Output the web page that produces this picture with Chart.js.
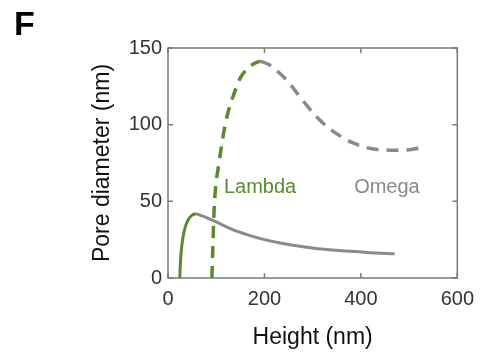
<!DOCTYPE html>
<html>
<head>
<meta charset="utf-8">
<script src="https://cdn.jsdelivr.net/npm/chart.js@4.4.1/dist/chart.umd.min.js"></script>
<style>
  html, body { margin: 0; padding: 0; background: #fff; }
  #wrap { position: relative; width: 483px; height: 356px; }
  #panel { position: absolute; left: 14px; top: 4px; font: bold 34px "Liberation Sans", Arial, sans-serif; color: #000; }
</style>
</head>
<body>
<div id="wrap">
  <canvas id="c" width="483" height="356"></canvas>
  <div id="panel">F</div>
</div>
<script>
// Data (height nm -> pore diameter nm)
const lambdaSolidX = [24.5, 25, 25.8, 27, 29, 32, 36, 42, 50, 58.5];
const lambdaSolidY = [0, 5, 10, 16, 22, 28, 33.5, 38, 41, 42];
const omegaSolidX  = [58.5, 75, 99, 133, 167, 200, 235, 270, 303, 340, 371, 420, 470];
const omegaSolidY  = [42, 40, 36.7, 31.7, 28, 25, 22.6, 20.8, 19.4, 18.3, 17.6, 16.5, 15.8];
const lambdaDashX  = [91, 93, 95, 99, 104, 110, 118, 128, 138, 150, 174, 191];
const lambdaDashY  = [0, 20, 40, 60, 71.5, 84, 99, 112, 121, 130.5, 139, 141.5];
const omegaDashX   = [191, 210, 230, 252, 270, 290, 310, 334, 360, 385, 410, 430, 450, 480, 507, 524];
const omegaDashY   = [141.5, 139, 134, 127, 119.5, 111.7, 104.5, 97.6, 92, 87.9, 85.2, 84, 83.5, 83.3, 84, 85];

const xTicks = [0, 200, 400, 600];
const yTicks = [0, 50, 100, 150];

const GREEN = "#5a8a2c";
const GREY = "#8a8a8a";
const FONT = "'Liberation Sans', Arial, sans-serif";

const pts = (xs, ys) => xs.map((x, i) => ({ x: x, y: ys[i] }));

const line = (label, xs, ys, color, dashed) => ({
  label: label,
  data: pts(xs, ys),
  showLine: true,
  borderColor: color,
  borderWidth: dashed ? 3.5 : 3,
  borderDash: dashed ? [12, 8] : [],
  pointRadius: 0,
  cubicInterpolationMode: "monotone",
  fill: false
});

// Box with inward ticks on all four sides, plus the two curve labels
const boxPlugin = {
  id: "box",
  afterDatasetsDraw(chart) {
    const { ctx, chartArea: a, scales } = chart;
    ctx.save();
    ctx.strokeStyle = "#7a7a7a";
    ctx.lineWidth = 1.5;
    ctx.strokeRect(a.left, a.top, a.right - a.left, a.bottom - a.top);
    ctx.beginPath();
    xTicks.forEach(v => {
      const px = scales.x.getPixelForValue(v);
      ctx.moveTo(px, a.bottom); ctx.lineTo(px, a.bottom - 5);
      ctx.moveTo(px, a.top); ctx.lineTo(px, a.top + 5);
    });
    yTicks.forEach(v => {
      const py = scales.y.getPixelForValue(v);
      ctx.moveTo(a.left, py); ctx.lineTo(a.left + 5, py);
      ctx.moveTo(a.right, py); ctx.lineTo(a.right - 5, py);
    });
    ctx.stroke();

    ctx.font = "20px " + FONT;
    ctx.textBaseline = "alphabetic";
    ctx.fillStyle = GREEN;
    ctx.fillText("Lambda", scales.x.getPixelForValue(116), scales.y.getPixelForValue(55.4));
    ctx.fillStyle = GREY;
    ctx.fillText("Omega", scales.x.getPixelForValue(386), scales.y.getPixelForValue(55.4));
    ctx.restore();
  }
};

new Chart(document.getElementById("c").getContext("2d"), {
  type: "scatter",
  data: {
    datasets: [
      line("Lambda", lambdaSolidX, lambdaSolidY, GREEN, false),
      line("Omega", omegaSolidX, omegaSolidY, GREY, false),
      line("Lambda", lambdaDashX, lambdaDashY, GREEN, true),
      line("Omega", omegaDashX, omegaDashY, GREY, true)
    ]
  },
  options: {
    responsive: false,
    animation: false,
    layout: { padding: { left: 0, top: 48, right: 21, bottom: 0 } },
    plugins: { legend: { display: false }, tooltip: { enabled: false } },
    scales: {
      x: {
        type: "linear",
        min: 0, max: 600,
        afterBuildTicks: s => { s.ticks = xTicks.map(v => ({ value: v })); },
        afterFit: s => { s.height = 78; },
        grid: { display: false, drawTicks: false },
        border: { display: false },
        ticks: { padding: 9, color: "#333", font: { family: FONT, size: 20 } },
        title: { display: true, text: "Height (nm)", color: "#111", padding: { top: 0, bottom: 5 }, font: { family: FONT, size: 23 } }
      },
      y: {
        type: "linear",
        min: 0, max: 150,
        afterBuildTicks: s => { s.ticks = yTicks.map(v => ({ value: v })); },
        afterFit: s => { s.width = 168; },
        grid: { display: false, drawTicks: false },
        border: { display: false },
        ticks: { padding: 6, color: "#333", font: { family: FONT, size: 20 } },
        title: { display: true, text: "Pore diameter (nm)", color: "#111", padding: { top: 89, bottom: 0 }, font: { family: FONT, size: 23 } }
      }
    }
  },
  plugins: [boxPlugin]
});
</script>
</body>
</html>
